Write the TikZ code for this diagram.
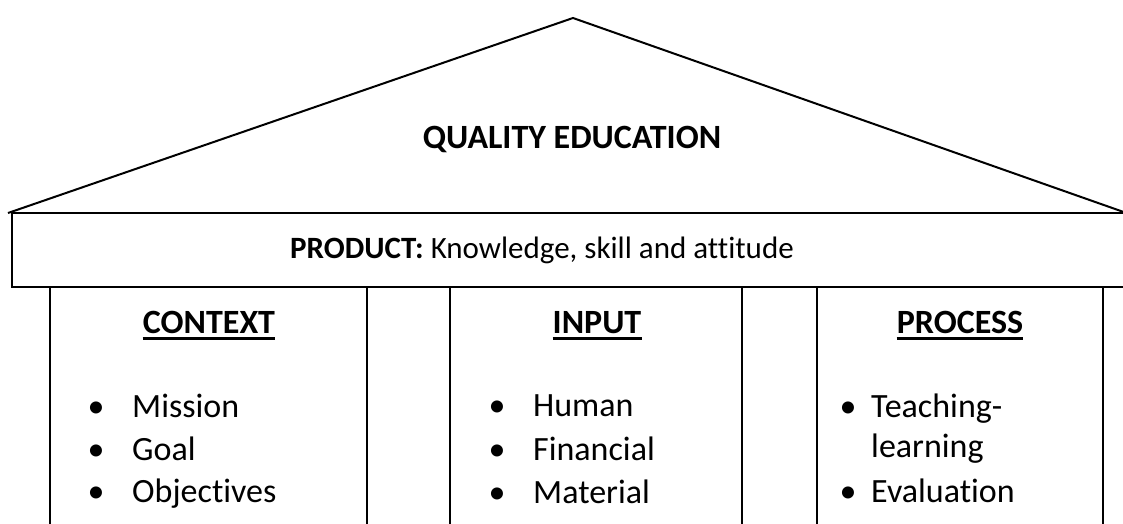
\documentclass[tikz,border=0pt]{standalone}
\usepackage{fontspec}
\setmainfont{Carlito}[Ligatures={NoCommon}]
\begin{document}
\begin{tikzpicture}[x=1pt,y=-1pt,
  edge/.style={line width=2pt, line join=miter},
  txt/.style={inner sep=0pt, font=\fontsize{34}{40}\selectfont},
  head/.style={txt, anchor=base, font=\fontsize{34}{40}\selectfont\bfseries},
  item/.style={txt, anchor=base west},
  bul/.style={txt, anchor=base}]
\useasboundingbox (0,0) rectangle (1123,524);
\begin{scope}
\clip (0,0) rectangle (1123,524);
% roof
\draw[edge] (8,213) -- (573,18) -- (1135,216);
% band
\draw[edge] (1140,213) -- (12,213) -- (12,287) -- (1140,287);
% columns
\foreach \x in {50,367,450,742,817,1103}
  \draw[edge] (\x,287) -- (\x,530);
\end{scope}
\node[head] (qe) at (572,148) {QUALITY EDUCATION};
\node[txt, anchor=base, font=\fontsize{31}{36}\selectfont] (prod) at (542,258) {\textbf{PRODUCT:} Knowledge, skill and attitude};
% headers
\node[head] (ctx) at (209,333) {CONTEXT};
\node[head] (inp) at (597,333) {INPUT};
\node[head] (prc) at (960,333) {PROCESS};
\foreach \n in {ctx,inp,prc}
  \draw[line width=2.6pt] ([yshift=-5.5]\n.base west) -- ([yshift=-5.5]\n.base east);
% context items
\node[bul] (cb1) at (96,417) {•};
\node[item] (c1) at (132,417) {Mission};
\node[bul] (cb2) at (96,460) {•};
\node[item] (c2) at (132,460) {Goal};
\node[bul] (cb3) at (96,502) {•};
\node[item] (c3) at (132,502) {Objectives};
% input items
\node[bul] (ib1) at (497,416) {•};
\node[item] (i1) at (533,416) {Human};
\node[bul] (ib2) at (497,460) {•};
\node[item] (i2) at (533,460) {Financial};
\node[bul] (ib3) at (497,503) {•};
\node[item] (i3) at (533,503) {Material};
% process items
\node[bul] (pb1) at (848,417) {•};
\node[item] (p1) at (871,417) {Teaching-};
\node[item] (p1b) at (871,457) {learning};
\node[bul] (pb2) at (848,502) {•};
\node[item] (p2) at (871,502) {Evaluation};
\end{tikzpicture}
\end{document}
